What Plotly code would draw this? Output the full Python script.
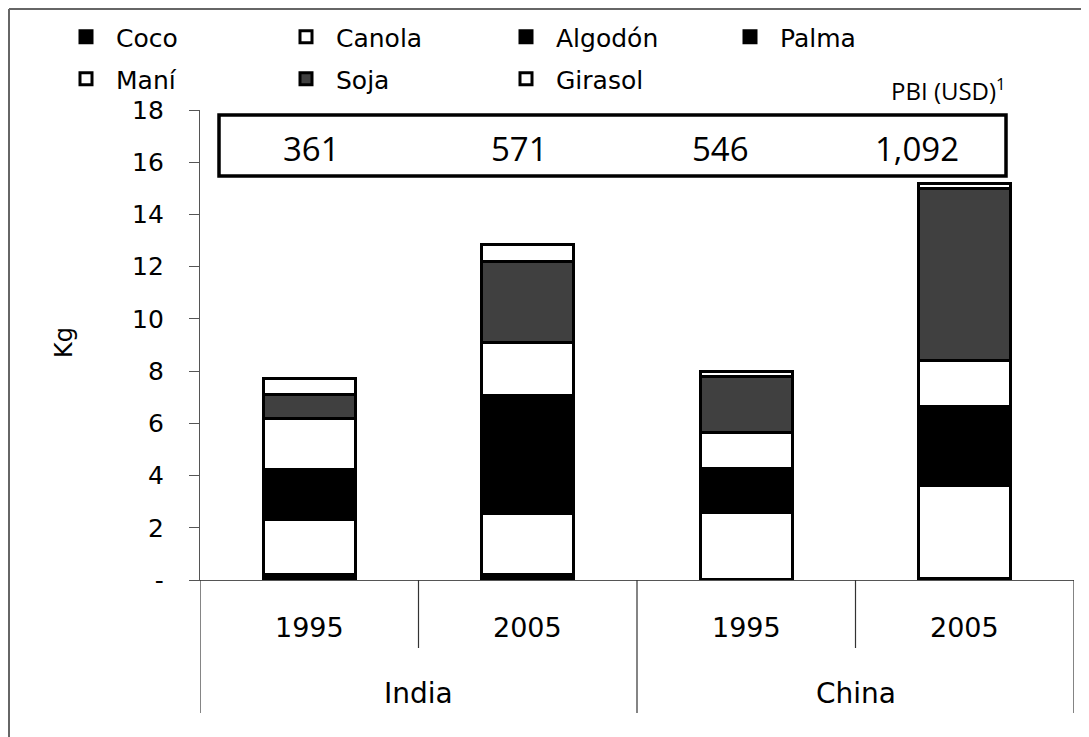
import plotly.graph_objects as go

# ---- data ----
countries = ["India", "India", "China", "China"]
years = ["1995", "2005", "1995", "2005"]
pbi_usd = [361, 571, 546, 1092]

coco = [0.22, 0.22, 0.03, 0.06]
canola = [2.11, 2.34, 2.55, 3.56]
algodon = [0.60, 0.95, 0.80, 0.90]
palma = [1.31, 3.57, 0.88, 2.14]
mani = [1.94, 2.00, 1.38, 1.76]
soja = [0.91, 3.12, 2.16, 6.58]
girasol = [0.63, 0.63, 0.18, 0.17]

series_names = ["Coco", "Canola", "Algodón", "Palma", "Maní", "Soja", "Girasol"]
series_values = [coco, canola, algodon, palma, mani, soja, girasol]
series_colors = ["#000000", "#ffffff", "#000000", "#000000", "#ffffff", "#404040", "#ffffff"]

y_ticks = [0, 2, 4, 6, 8, 10, 12, 14, 16, 18]
y_ticktext = ["-", "2", "4", "6", "8", "10", "12", "14", "16", "18"]

keys = [f"{c} {y}" for c, y in zip(countries, years)]

# page offset (body margin) and geometry, in screen pixels
OFF = 8
W, H = 1089, 737
ML = 200 - OFF
MT = 110 - OFF
MR = W - (1074 - OFF)
MB = H - (580 - OFF)
PW, PH = W - ML - MR, H - MT - MB


def px_x(p):
    return (p - OFF - ML) / PW


def px_y(p):
    return (H - MB - (p - OFF)) / PH


fig = go.Figure()
legend_ids = ["legend"] + [f"legend{i}" for i in range(2, len(series_names) + 1)]
for name, vals, col, lg in zip(series_names, series_values, series_colors, legend_ids):
    fig.add_trace(go.Bar(
        x=keys, y=vals, name=name, legend=lg,
        marker=dict(color=col, line=dict(color="#000000", width=3)),
        width=0.42,
    ))

font_main = "DejaVu Sans"
font_pbi = "Open Sans"

annotations = []
for i, y in enumerate(years):
    annotations.append(dict(x=i, xref="x", y=0, yref="paper", yshift=-47,
                            text=y, showarrow=False, xanchor="center", yanchor="middle",
                            font=dict(family=font_main, size=27, color="#000")))
groups = []
for i, c in enumerate(countries):
    if not groups or groups[-1][0] != c:
        groups.append([c, i, i])
    else:
        groups[-1][2] = i
for c, a, b in groups:
    annotations.append(dict(x=(a + b) / 2, xref="x", y=0, yref="paper", yshift=-113,
                            text=c, showarrow=False, xanchor="center", yanchor="middle",
                            font=dict(family=font_main, size=28, color="#000")))
# PBI values inside the text box (text centres, screen px)
pbi_text_x = [311, 519, 720, 917]
for xp, v in zip(pbi_text_x, pbi_usd):
    annotations.append(dict(x=px_x(xp), xref="paper", y=px_y(148), yref="paper",
                            text=f"{v:,}", showarrow=False,
                            xanchor="center", yanchor="middle",
                            font=dict(family=font_pbi, size=33, color="#000")))
annotations.append(dict(x=px_x(1008), xref="paper", y=px_y(89), yref="paper",
                        text="PBI (USD)<sup>1</sup>", showarrow=False,
                        xanchor="right", yanchor="middle",
                        font=dict(family=font_pbi, size=24, color="#000")))
annotations.append(dict(x=px_x(64), xref="paper", y=px_y(343), yref="paper",
                        text="Kg", showarrow=False, textangle=-90,
                        xanchor="center", yanchor="middle",
                        font=dict(family=font_main, size=24, color="#000")))

shapes = []
shapes.append(dict(type="rect", xref="paper", yref="paper",
                   x0=px_x(219), x1=px_x(1006), y0=px_y(176), y1=px_y(115),
                   line=dict(color="#000", width=3.5), fillcolor="rgba(0,0,0,0)"))
for i in range(len(keys) + 1):
    xpos = i - 0.5
    is_group_edge = i == 0 or i == len(keys) or countries[i - 1] != countries[i]
    shapes.append(dict(type="line", xref="x", yref="paper", ysizemode="pixel", yanchor=0,
                       x0=xpos, x1=xpos, y0=0, y1=-133 if is_group_edge else -68,
                       line=dict(color="#333", width=1.2)))
# outer chart border (left & top)
shapes.append(dict(type="line", xref="paper", yref="paper",
                   x0=px_x(9), x1=px_x(9), y0=px_y(9), y1=px_y(760),
                   line=dict(color="#666", width=2)))
shapes.append(dict(type="line", xref="paper", yref="paper",
                   x0=px_x(9), x1=px_x(1110), y0=px_y(9), y1=px_y(9),
                   line=dict(color="#666", width=2)))

# legend entry positions: symbol centres in screen pixels
legend_cols = [84, 304, 524, 748, 84, 304, 524]
legend_rows = [37, 37, 37, 37, 79, 79, 79]
legends = {}
for lg, cx, cy in zip(legend_ids, legend_cols, legend_rows):
    legends[lg] = dict(orientation="h", xref="container", yref="container",
                       x=(cx - OFF - 28) / W, y=1 - (cy - OFF) / H,
                       xanchor="left", yanchor="middle", itemwidth=50,
                       font=dict(family=font_main, size=25, color="#000"),
                       bgcolor="rgba(0,0,0,0)",
                       itemclick=False, itemdoubleclick=False)

fig.update_layout(
    width=W, height=H,
    margin=dict(l=ML, r=MR, t=MT, b=MB, autoexpand=False),
    paper_bgcolor="#ffffff", plot_bgcolor="#ffffff",
    barmode="stack",
    showlegend=True,
    xaxis=dict(type="category", categoryorder="array", categoryarray=keys,
               range=[-0.5, len(keys) - 0.5], showticklabels=False, ticks="",
               showline=True, linecolor="#555", linewidth=1.2, showgrid=False,
               zeroline=False),
    yaxis=dict(range=[0, 18], tickvals=y_ticks, ticktext=y_ticktext,
               ticks="outside", ticklen=10, tickcolor="#555", tickwidth=1.2,
               showline=True, linecolor="#555", linewidth=1.2, showgrid=False,
               zeroline=False, ticklabelstandoff=20,
               tickfont=dict(family=font_main, size=25, color="#000")),
    annotations=annotations,
    shapes=shapes,
    **legends,
)

fig.write_html("out.html")
